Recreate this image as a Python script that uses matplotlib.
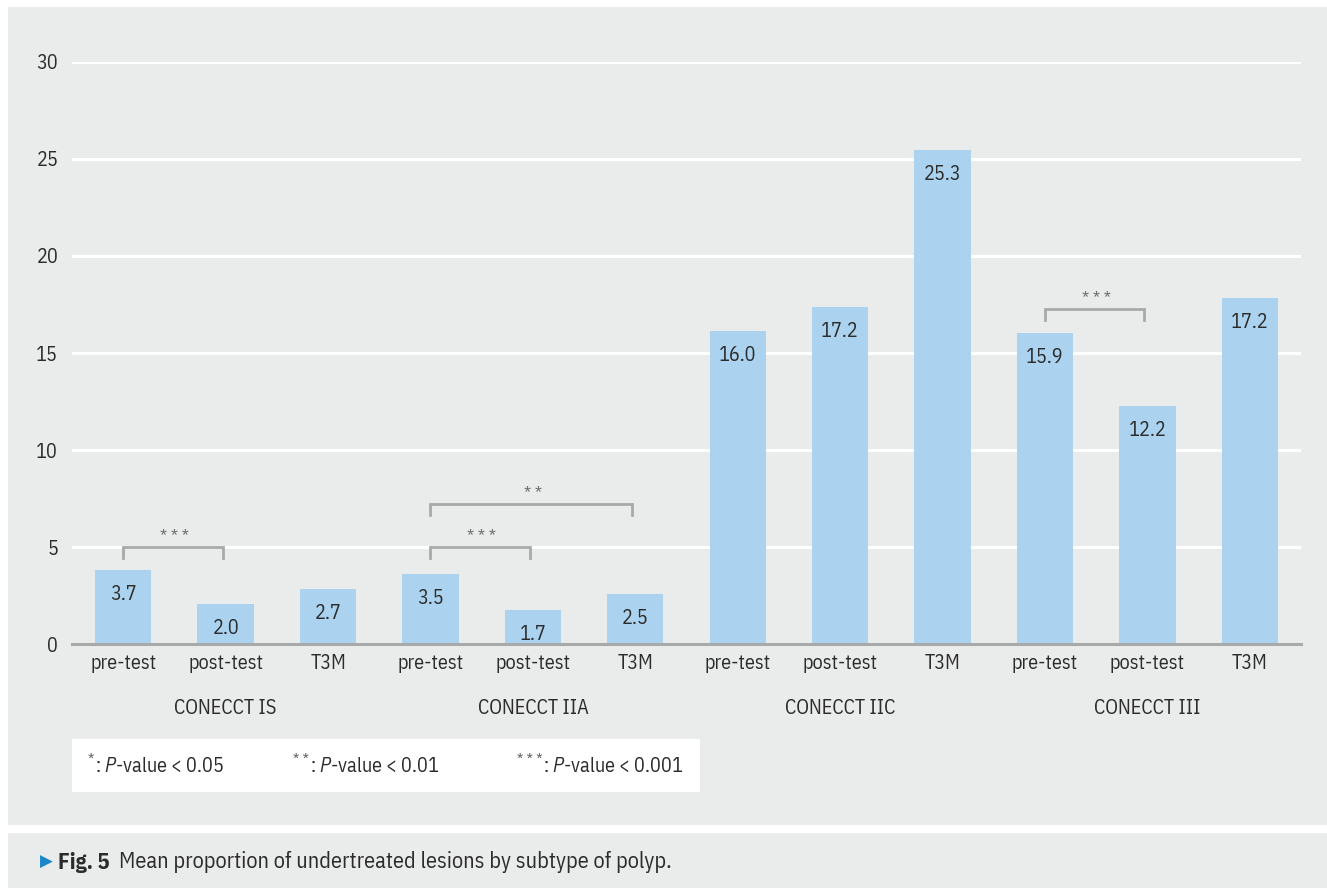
import matplotlib
matplotlib.use("Agg")
import matplotlib.pyplot as plt
from matplotlib.patches import Rectangle
import numpy as np

# ---- data ----
groups = ["CONECCT IS", "CONECCT IIA", "CONECCT IIC", "CONECCT III"]
phases = ["pre-test", "post-test", "T3M"]
bar_heights = [3.82, 2.07, 2.85, 3.61, 1.76, 2.59, 16.12, 17.36, 25.44, 16.03, 12.26, 17.81]
bar_labels = ["3.7", "2.0", "2.7", "3.5", "1.7", "2.5", "16.0", "17.2", "25.3", "15.9", "12.2", "17.2"]
yticks = [0, 5, 10, 15, 20, 25, 30]
# significance brackets: (left index, right index, bracket level, stars)
brackets = [(0, 1, 5.0, "* * *"), (3, 4, 5.0, "* * *"), (3, 5, 7.2, "* *"), (9, 10, 17.25, "* * *")]
legend_stars = ["*", "* *", "* * *"]
legend_texts = [r": $\mathit{P}$-value < 0.05",
                r": $\mathit{P}$-value < 0.01",
                r": $\mathit{P}$-value < 0.001"]
caption = "Mean proportion of undertreated lesions by subtype of polyp."

MAIN = "IBM Plex Sans Condensed"
FONT = [MAIN, "DejaVu Sans"]
plt.rcParams["font.family"] = FONT
plt.rcParams["mathtext.fontset"] = "custom"
plt.rcParams["mathtext.rm"] = MAIN
plt.rcParams["mathtext.it"] = MAIN + ":italic"
plt.rcParams["mathtext.bf"] = MAIN + ":bold"

BG = "#eaebeb"
BAR = "#abd3ef"
TXT = "#2b2b2b"
AXC = "#a7a9ab"
FS = 14.5

W, H = 1327, 888
fig = plt.figure(figsize=(W / 100, H / 100), dpi=100)
fig.patch.set_facecolor("white")

def fx(px):
    return px / W

def fy(py):
    return 1 - py / H

# background panels
fig.add_artist(Rectangle((fx(8), fy(825)), fx(W - 8), 818 / H, transform=fig.transFigure,
                         facecolor=BG, edgecolor="none", zorder=-10))
fig.add_artist(Rectangle((fx(8), 0), fx(W - 8), fy(833), transform=fig.transFigure,
                         facecolor=BG, edgecolor="none", zorder=-10))
# legend box
fig.add_artist(Rectangle((fx(72), fy(792)), fx(700 - 72), (792 - 739) / H, transform=fig.transFigure,
                         facecolor="white", edgecolor="none", zorder=-5))

ax = fig.add_axes([fx(72), fy(644.3), fx(1301 - 72), (644.3 - 61.7) / H])
ax.set_facecolor("none")
x = np.arange(len(bar_heights))
ax.bar(x, bar_heights, width=0.55, color=BAR, zorder=2)
ax.set_xlim(-0.5, len(bar_heights) - 0.5)
ax.set_ylim(0, 30)
ax.set_yticks(yticks)
ax.set_yticklabels([str(t) for t in yticks], fontsize=FS, color=TXT)
ax.yaxis.grid(True, color="white", linewidth=2.2, zorder=0)
ax.set_axisbelow(True)
ax.tick_params(axis="y", length=0, pad=10)
ax.tick_params(axis="x", length=0, pad=7)
ax.set_xticks(x)
ax.set_xticklabels(phases * len(groups), fontsize=FS, color=TXT)
for s in ["top", "right", "left"]:
    ax.spines[s].set_visible(False)
ax.spines["bottom"].set_color(AXC)
ax.spines["bottom"].set_linewidth(2.2)
ax.spines["bottom"].set_zorder(3)

# value labels inside bars
for xi, h, lab in zip(x, bar_heights, bar_labels):
    ax.annotate(lab, xy=(xi, h), xytext=(0, -17.5), textcoords="offset points",
                ha="center", va="center", fontsize=FS, color=TXT, zorder=4)

# group labels
for gi, g in enumerate(groups):
    ax.annotate(g, xy=(gi * 3 + 1, 0), xytext=(0, -46), textcoords="offset points",
                ha="center", va="center", fontsize=FS, color=TXT, annotation_clip=False)

# significance brackets
for l, r, lvl, stars in brackets:
    ax.plot([l, l, r - 0.03, r - 0.03], [lvl - 0.55, lvl, lvl, lvl - 0.55], color=AXC, lw=2.0,
            solid_joinstyle="miter", zorder=3, clip_on=False)
    ax.annotate(stars, xy=((l + r) / 2, lvl), xytext=(0, 7.5), textcoords="offset points",
                ha="center", va="center", fontsize=12.5, color="#666666", clip_on=False)

# legend entries
for px, st, txt in zip([88, 293, 517], legend_stars, legend_texts):
    t = fig.text(fx(px), fy(760), st, fontsize=11, color="#555555", va="center", ha="left", zorder=2)
    ax.annotate(txt, xy=(1, fy(766)), xycoords=(t, "figure fraction"), xytext=(0.5, 0),
                textcoords="offset points", fontsize=FS, color=TXT, va="center", ha="left",
                annotation_clip=False, zorder=2)

# caption
fig.text(fx(40), fy(862), "\u25B6", family=["DejaVu Sans"], fontsize=12, color="#1a86c8", va="center")
fig.text(fx(58), fy(862), "Fig.\u20095", fontsize=16, fontweight="bold", color=TXT, va="center")
fig.text(fx(119), fy(862), caption, fontsize=16, color=TXT, va="center")

fig.savefig("out.png", dpi=100, facecolor=fig.get_facecolor())
